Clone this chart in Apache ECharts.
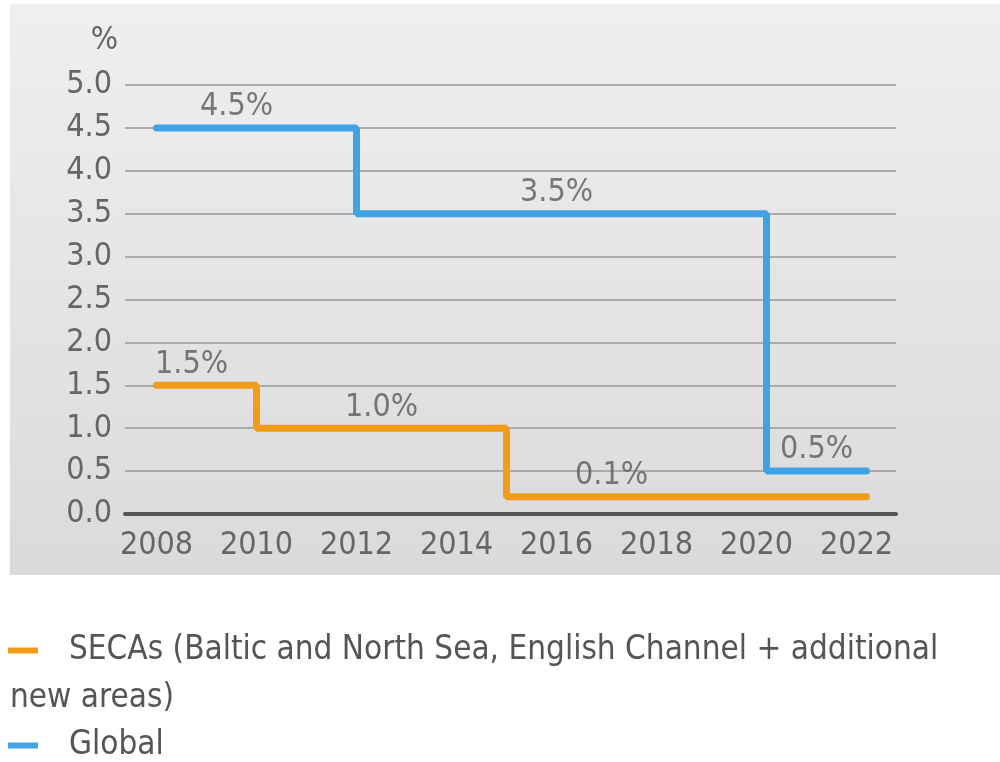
<!DOCTYPE html>
<html>
<head>
<meta charset="utf-8">
<script src="https://cdn.jsdelivr.net/npm/echarts@6/dist/echarts.min.js"></script>
<style>
  html, body { margin: 0; padding: 0; background: #fff; }
  #chart { width: 1000px; height: 762px; }
</style>
</head>
<body>
<div id="chart"></div>
<script>
const FONT = "'DejaVu Sans Condensed', 'Liberation Sans Narrow', sans-serif"

// step years / values
const secaYears = [2008, 2010, 2015, 2022.2]
const secaValues = [1.5, 1.0, 0.2, 0.2]
const globalYears = [2008, 2012, 2020.2, 2022.2]
const globalValues = [4.5, 3.5, 0.5, 0.5]

// value labels (text, year where it sits, level it sits above)
const labelTexts = ['4.5%', '3.5%', '0.5%', '1.5%', '1.0%', '0.1%']
const labelYears = [2009.6, 2016.0, 2021.2, 2008.7, 2012.5, 2017.1]
const labelLevels = [4.5, 3.5, 0.5, 1.5, 1.0, 0.2]

const yearTicks = [2008, 2010, 2012, 2014, 2016, 2018, 2020, 2022]

const secaName = 'SECAs (Baltic and North Sea, English Channel + additional new areas)'
const globalName = 'Global'

let chart = echarts.init(document.getElementById('chart'))

let pairs = (xs, ys) => xs.map((x, i) => [x, ys[i]])

chart.setOption({
  animation: false,
  textStyle: { fontFamily: FONT },
  graphic: [
    {
      type: 'rect',
      z: -10,
      shape: { x: 10, y: 4, width: 990, height: 571 },
      style: {
        fill: new echarts.graphic.LinearGradient(0, 0, 0, 1, [
          { offset: 0, color: '#efefef' },
          { offset: 1, color: '#dadada' }
        ])
      }
    },
    {
      type: 'text',
      left: 10,
      top: 682,
      style: {
        text: 'new areas)',
        fill: '#555',
        fontSize: 33,
        fontFamily: FONT
      }
    }
  ],
  legend: [
    {
      left: 8,
      top: 634,
      padding: 0,
      data: [secaName],
      icon: 'rect',
      itemWidth: 30,
      itemHeight: 6,
      formatter: () => 'SECAs (Baltic and North Sea, English Channel + additional',
      textStyle: { color: '#555', fontSize: 33, fontFamily: FONT, padding: [0, 0, 0, 26] }
    },
    {
      left: 8,
      top: 729,
      padding: 0,
      data: [globalName],
      icon: 'rect',
      itemWidth: 30,
      itemHeight: 6,
      textStyle: { color: '#555', fontSize: 33, fontFamily: FONT, padding: [0, 0, 0, 26] }
    }
  ],
  grid: {
    left: 125,
    right: 104,
    top: 85,
    bottom: 248
  },
  xAxis: {
    type: 'value',
    min: 2007.37,
    max: 2022.79,
    axisLine: { lineStyle: { color: '#555', width: 4 } },
    axisTick: { show: false },
    splitLine: { show: false },
    axisLabel: {
      customValues: yearTicks,
      formatter: v => String(v),
      color: '#666',
      fontSize: 32,
      margin: 16,
      fontFamily: FONT
    }
  },
  yAxis: {
    type: 'value',
    min: 0,
    max: 5,
    interval: 0.5,
    name: '%',
    nameLocation: 'end',
    nameGap: 28,
    nameTextStyle: { color: '#666', fontSize: 32, align: 'right', padding: [0, 7, 0, 0], fontFamily: FONT },
    axisLine: { show: false },
    axisTick: { show: false },
    splitLine: { lineStyle: { color: '#999', width: 1.5 } },
    axisLabel: {
      formatter: v => v.toFixed(1),
      color: '#666',
      fontSize: 32,
      margin: 13,
      fontFamily: FONT
    }
  },
  series: [
    {
      name: secaName,
      type: 'line',
      step: 'end',
      symbol: 'none',
      color: '#f39c1a',
      lineStyle: { width: 7, cap: 'round' },
      data: pairs(secaYears, secaValues)
    },
    {
      name: globalName,
      type: 'line',
      step: 'end',
      symbol: 'none',
      color: '#41a3e4',
      lineStyle: { width: 7, cap: 'round' },
      data: pairs(globalYears, globalValues)
    },
    {
      name: 'labels',
      type: 'scatter',
      symbolSize: 0,
      silent: true,
      data: labelTexts.map((t, i) => [labelYears[i], labelLevels[i], t]),
      label: {
        show: true,
        position: 'top',
        distance: 5,
        formatter: p => p.value[2],
        color: '#5a5a5a',
        fontSize: 32,
        fontFamily: FONT
      }
    }
  ]
})
</script>
</body>
</html>
